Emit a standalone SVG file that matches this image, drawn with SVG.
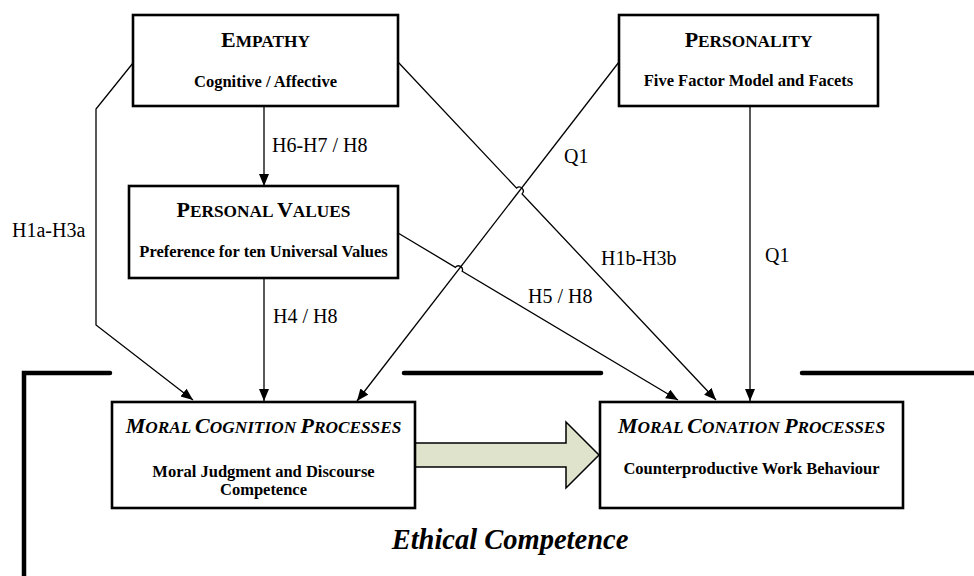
<svg xmlns="http://www.w3.org/2000/svg" width="974" height="576" viewBox="0 0 974 576">
  <style>
    .box { fill: #ffffff; stroke: #000000; stroke-width: 2.6; }
    .serif { font-family: "Liberation Serif", "Times New Roman", serif; fill: #000; }
    .title { font-weight: bold; text-anchor: middle; }
    .ititle { font-weight: bold; font-style: italic; text-anchor: middle; }
    .big { font-size: 22px; }
    .sc { font-size: 17.3px; }
    .sub { font-weight: bold; font-size: 16.5px; text-anchor: middle; }
    .lbl { font-size: 20px; }
    .conn { fill: none; stroke: #000; stroke-width: 1.3; marker-end: url(#arrow); }
    .frame { fill: none; stroke: #000; stroke-width: 4.5; stroke-linecap: round; }
  </style>
  <defs>
    <marker id="arrow" markerUnits="userSpaceOnUse" markerWidth="14" markerHeight="12" refX="12" refY="5" orient="auto">
      <path d="M0,0 L12,5 L0,10 Z" fill="#000"/>
    </marker>
  </defs>

  <rect x="0" y="0" width="974" height="576" fill="#ffffff"/>

  <!-- ethical competence frame -->
  <g id="frame">
    <path class="frame" d="M24,576 V373 H110"/>
    <path class="frame" d="M404,373 H601"/>
    <path class="frame" d="M802,373 H974"/>
    <text class="serif" x="510" y="549" font-weight="bold" font-style="italic" font-size="28.5" text-anchor="middle">Ethical Competence</text>
  </g>

  <!-- connectors -->
  <g id="connectors">
    <path class="conn" d="M133,63 L96,109 L96,325 L193,400"/>
    <path class="conn" d="M264,106 V186"/>
    <path class="conn" d="M264,278 V401"/>
    <path class="conn" d="M398,62 L516.6,188.1 A4,4 0 0 1 522.1,193.9 L716,400"/>
    <path class="conn" d="M398,233 L455.4,267.3 A4,4 0 0 1 462.2,271.3 L678,400"/>
    <path class="conn" d="M619,62 L357,401"/>
    <path class="conn" d="M750,106 V401"/>
    <!-- process arrow -->
    <path d="M415,443 H566 V422 L599,455 L566,488 V467 H415 Z" fill="#dfe3cc" stroke="#000" stroke-width="1.5"/>
    <text class="serif lbl" x="12" y="237">H1a-H3a</text>
    <text class="serif lbl" x="272" y="152">H6-H7 / H8</text>
    <text class="serif lbl" x="273" y="323">H4 / H8</text>
    <text class="serif lbl" x="564" y="163">Q1</text>
    <text class="serif lbl" x="601" y="265">H1b-H3b</text>
    <text class="serif lbl" x="528" y="303">H5 / H8</text>
    <text class="serif lbl" x="765" y="262">Q1</text>
  </g>

  <g id="empathy">
    <rect class="box" x="133" y="15" width="265" height="91"/>
    <text class="serif title" x="265.5" y="47"><tspan class="big">E</tspan><tspan class="sc">MPATHY</tspan></text>
    <text class="serif sub" x="265.5" y="87">Cognitive / Affective</text>
  </g>

  <g id="personality">
    <rect class="box" x="619" y="15" width="259" height="91"/>
    <text class="serif title" x="748.5" y="47"><tspan class="big">P</tspan><tspan class="sc">ERSONALITY</tspan></text>
    <text class="serif sub" x="748.5" y="86">Five Factor Model and Facets</text>
  </g>

  <g id="personal-values">
    <rect class="box" x="129" y="186" width="269" height="92"/>
    <text class="serif title" x="263.5" y="217"><tspan class="big">P</tspan><tspan class="sc">ERSONAL </tspan><tspan class="big">V</tspan><tspan class="sc">ALUES</tspan></text>
    <text class="serif sub" x="263.5" y="257">Preference for ten Universal Values</text>
  </g>

  <g id="moral-cognition">
    <rect class="box" x="112" y="402" width="303" height="106"/>
    <text class="serif ititle" x="263.5" y="433"><tspan class="big">M</tspan><tspan class="sc">ORAL </tspan><tspan class="big">C</tspan><tspan class="sc">OGNITION </tspan><tspan class="big">P</tspan><tspan class="sc">ROCESSES</tspan></text>
    <text class="serif sub" x="263.5" y="477">Moral Judgment and Discourse</text>
    <text class="serif sub" x="263.5" y="495">Competence</text>
  </g>

  <g id="moral-conation">
    <rect class="box" x="600" y="402" width="303" height="106"/>
    <text class="serif ititle" x="751.5" y="433"><tspan class="big">M</tspan><tspan class="sc">ORAL </tspan><tspan class="big">C</tspan><tspan class="sc">ONATION </tspan><tspan class="big">P</tspan><tspan class="sc">ROCESSES</tspan></text>
    <text class="serif sub" x="751.5" y="474">Counterproductive Work Behaviour</text>
  </g>
</svg>
